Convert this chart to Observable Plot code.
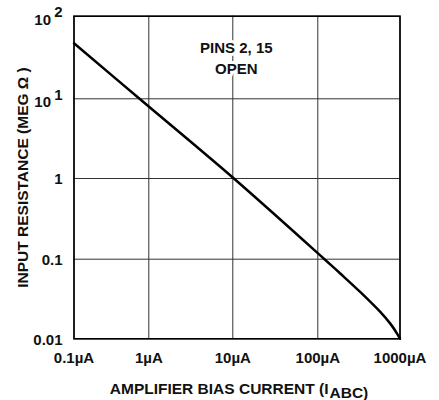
<!DOCTYPE html>
<html><head><meta charset="utf-8">
<script src="https://cdn.jsdelivr.net/npm/d3@7"></script>
<script src="https://cdn.jsdelivr.net/npm/@observablehq/plot@0.6"></script>
<style>
body{margin:0;background:#fff}
#chart svg{font-family:"Liberation Sans",Arial,Helvetica,sans-serif;background:#fff}
</style>
</head><body><div id="chart"></div>
<script>
// Data
const biasCurrent = [0.1, 0.752, 10.3, 120.6, 189, 330, 579, 766, 925, 1000]; // µA
const inputResistance = [47.1, 10, 1, 0.1, 0.0657, 0.0385, 0.0216, 0.0154, 0.01156, 0.01]; // MΩ
const xTicks = [0.1, 1, 10, 100, 1000];
const xTickLabels = ["0.1\u00b5A", "1\u00b5A", "10\u00b5A", "100\u00b5A", "1000\u00b5A"];
const yTicks = [0.01, 0.1, 1, 10, 100];
const yTickBase = ["0.01", "0.1", "1", "10", "10"];
const yTickExponent = ["", "", "", "1", "2"];
const annotationText = "PINS 2, 15\nOPEN";
const xLabelMain = "AMPLIFIER BIAS CURRENT (I";
const xLabelSub = "ABC)";
const yLabel = "INPUT RESISTANCE (MEG \u03a9 )";

const points = biasCurrent.map((x, i) => ({x, y: inputResistance[i]}));
const yRows = yTicks.map((v, i) => ({v, base: yTickBase[i], exp: yTickExponent[i]}));
const fs = 15;

const chart = Plot.plot({
  width: 439,
  height: 400,
  marginLeft: 73.5,
  marginRight: 39.5,
  marginTop: 15.7,
  marginBottom: 61.7,
  style: {fontFamily: "'Liberation Sans', Arial, Helvetica, sans-serif", fontWeight: "bold", background: "#fff"},
  // the reference's decades are not quite evenly spaced: piecewise log scales
  x: {type: "log", domain: xTicks, range: [73.5, 148.3, 232.3, 317.3, 399.5], axis: null},
  y: {type: "log", domain: yTicks, range: [338.3, 258.7, 178, 98.3, 15.7], axis: null},
  marks: [
    Plot.ruleX(xTicks, {x: d => d, stroke: "#333", strokeWidth: 1}),
    Plot.ruleY(yTicks, {y: d => d, stroke: "#333", strokeWidth: 1}),
    Plot.frame({stroke: "#000", strokeWidth: 1.6}),
    Plot.text([annotationText], {x: 10, y: 32, dx: 3.5, text: d => d, fontSize: fs, fontWeight: "bold", fill: "#111", lineHeight: 1.35, stroke: "#fff", strokeWidth: 6, strokeLinejoin: "round"}),
    Plot.line(points, {x: "x", y: "y", stroke: "#000", strokeWidth: 2.5, curve: "catmull-rom"}),
    // x tick labels
    Plot.text(xTicks, {x: d => d, y: 0.01, text: (d, i) => xTickLabels[i], dy: 19, fontSize: fs, fontWeight: "bold", fill: "#111", lineAnchor: "middle"}),
    // y tick labels (plain)
    Plot.text(yRows.filter(d => !d.exp), {x: 0.1, y: "v", text: "base", dx: -11.5, dy: 1, textAnchor: "end", fontSize: fs, fontWeight: "bold", fill: "#111"}),
    // y tick labels with exponent
    Plot.text(yRows.filter(d => d.exp), {x: 0.1, y: "v", text: "base", dx: -23, dy: 3.5, textAnchor: "end", fontSize: fs, fontWeight: "bold", fill: "#111"}),
    Plot.text(yRows.filter(d => d.exp), {x: 0.1, y: "v", text: "exp", dx: -11.5, dy: -4, textAnchor: "end", fontSize: fs, fontWeight: "bold", fill: "#111"}),
    // axis labels
    Plot.text([yLabel], {frameAnchor: "left", text: d => d, rotate: -90, dx: -51, textAnchor: "middle", lineAnchor: "middle", fontSize: 15.5, fontWeight: "bold", fill: "#111"}),
    Plot.text([xLabelMain], {frameAnchor: "bottom", text: d => d, dx: 91.5, dy: 50, textAnchor: "end", lineAnchor: "middle", fontSize: 15.5, fontWeight: "bold", fill: "#111"}),
    Plot.text([xLabelSub], {frameAnchor: "bottom", text: d => d, dx: 92.5, dy: 54, textAnchor: "start", lineAnchor: "middle", fontSize: 15.5, fontWeight: "bold", fill: "#111"})
  ]
});
document.getElementById("chart").appendChild(chart);
</script>
</body></html>
